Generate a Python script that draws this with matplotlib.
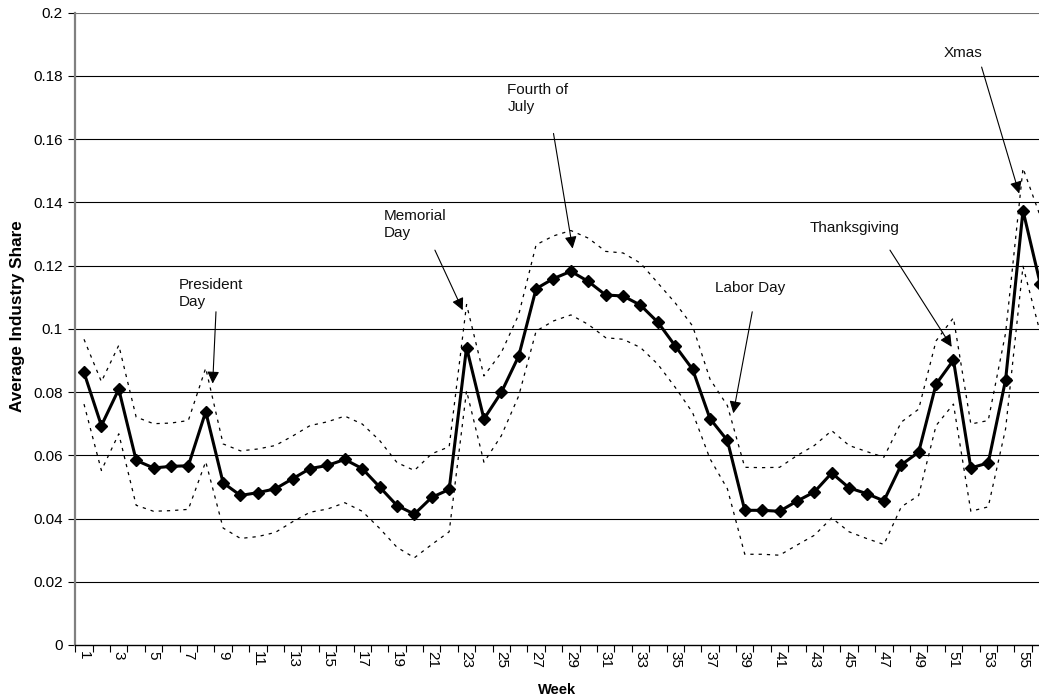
import matplotlib
matplotlib.use('Agg')
import matplotlib.pyplot as plt
from matplotlib.ticker import FixedLocator

plt.rcParams['font.family'] = ['Liberation Sans', 'DejaVu Sans']

weeks = list(range(1, 57))
share = [0.0862, 0.0694, 0.0809, 0.0584, 0.0560, 0.0565, 0.0567, 0.0738, 0.0513, 0.0473,
         0.0482, 0.0494, 0.0526, 0.0558, 0.0568, 0.0587, 0.0558, 0.0500, 0.0441, 0.0414,
         0.0467, 0.0492, 0.0941, 0.0715, 0.0799, 0.0914, 0.1127, 0.1159, 0.1182, 0.1150,
         0.1107, 0.1104, 0.1075, 0.1021, 0.0946, 0.0872, 0.0716, 0.0647, 0.0426, 0.0426,
         0.0423, 0.0455, 0.0484, 0.0544, 0.0497, 0.0479, 0.0456, 0.0570, 0.0610, 0.0825,
         0.0901, 0.0560, 0.0576, 0.0839, 0.1374, 0.1141]
upper = [0.0967, 0.0833, 0.0948, 0.0721, 0.0700, 0.0702, 0.0710, 0.0876, 0.0636, 0.0614,
         0.0620, 0.0631, 0.0661, 0.0694, 0.0706, 0.0724, 0.0699, 0.0647, 0.0577, 0.0552,
         0.0605, 0.0627, 0.1077, 0.0851, 0.0925, 0.1045, 0.1266, 0.1294, 0.1311, 0.1287,
         0.1245, 0.1240, 0.1208, 0.1145, 0.1082, 0.1009, 0.0841, 0.0757, 0.0562, 0.0561,
         0.0562, 0.0599, 0.0631, 0.0678, 0.0631, 0.0612, 0.0594, 0.0705, 0.0746, 0.0962,
         0.1035, 0.0699, 0.0710, 0.0987, 0.1508, 0.1355]
lower = [0.0762, 0.0552, 0.0668, 0.0442, 0.0423, 0.0425, 0.0429, 0.0580, 0.0370, 0.0337,
         0.0343, 0.0356, 0.0390, 0.0420, 0.0430, 0.0450, 0.0423, 0.0369, 0.0309, 0.0276,
         0.0318, 0.0358, 0.0804, 0.0578, 0.0662, 0.0788, 0.0993, 0.1025, 0.1044, 0.1014,
         0.0972, 0.0967, 0.0941, 0.0888, 0.0815, 0.0735, 0.0589, 0.0494, 0.0287, 0.0287,
         0.0284, 0.0316, 0.0347, 0.0402, 0.0358, 0.0337, 0.0318, 0.0437, 0.0473, 0.0694,
         0.0762, 0.0423, 0.0437, 0.0684, 0.1198, 0.0986]

y_ticks = [0, 0.02, 0.04, 0.06, 0.08, 0.1, 0.12, 0.14, 0.16, 0.18, 0.2]
y_tick_labels = ['0', '0.02', '0.04', '0.06', '0.08', '0.1', '0.12', '0.14', '0.16', '0.18', '0.2']
x_tick_weeks = list(range(1, 56, 2))
x_tick_labels = [str(w) for w in x_tick_weeks]

# annotations: label, text anchor (x, y), arrow start, arrow tip
ann_labels = ['President\nDay', 'Memorial\nDay', 'Fourth of\nJuly', 'Labor Day', 'Thanksgiving', 'Xmas']
ann_text_xy = [(6.46, 0.1160), (18.25, 0.1378), (25.34, 0.1777), (37.29, 0.1129), (42.75, 0.1318), (50.45, 0.1871)]
ann_text_va = ['top', 'top', 'top', 'center', 'center', 'center']
ann_start = [(8.59, 0.1054), (21.18, 0.1249), (28.00, 0.1618), (39.43, 0.1054), (47.35, 0.1249), (52.62, 0.1828)]
ann_tip = [(8.40, 0.0827), (22.78, 0.1059), (29.10, 0.1254), (38.34, 0.0733), (50.90, 0.0943), (54.78, 0.1428)]

W, H = 1039, 700
fig = plt.figure(figsize=(W / 100, H / 100), dpi=100)
ax = fig.add_axes([75.3 / W, 55 / H, (W - 75.3) / W, (645 - 12.7) / H])

ax.set_xlim(0.5, 55.92)
ax.set_ylim(0, 0.2)

for v in y_ticks[1:]:
    ax.axhline(v, color='black' if v < 0.2 else '#707070', lw=0.8, zorder=1)

dot = (0, (2.6, 4.0))
ax.plot(weeks, upper, color='black', lw=0.9, linestyle=dot, zorder=2)
ax.plot(weeks, lower, color='black', lw=0.9, linestyle=dot, zorder=2)
ax.plot(weeks, share, color='black', lw=2.2, marker='D', markersize=5.8, zorder=3)

for lab, (tx, ty), va, st, tp in zip(ann_labels, ann_text_xy, ann_text_va, ann_start, ann_tip):
    ax.text(tx, ty, lab, ha='left', va=va, fontsize=11, linespacing=1.25, color='#111111')
    ax.annotate('', xy=tp, xytext=st,
                arrowprops=dict(arrowstyle='-|>,head_length=0.6,head_width=0.3',
                                mutation_scale=12, lw=0.8, color='black',
                                shrinkA=0, shrinkB=0))

ax.set_yticks(y_ticks)
ax.set_yticklabels(y_tick_labels, fontsize=11)
ax.tick_params(axis='y', length=5, width=0.8, pad=4, color='black')

ax.xaxis.set_major_locator(FixedLocator(x_tick_weeks))
ax.set_xticklabels(x_tick_labels, rotation=270, fontsize=11)
ax.xaxis.set_minor_locator(FixedLocator([w + 0.5 for w in range(0, 56)]))
ax.tick_params(axis='x', which='major', length=0, pad=4)
ax.tick_params(axis='x', which='minor', length=5, width=0.8, color='black')

for s in ['top', 'right']:
    ax.spines[s].set_visible(False)
ax.spines['left'].set_color('#808080')
ax.spines['left'].set_linewidth(1.6)
ax.spines['bottom'].set_color('black')
ax.spines['bottom'].set_linewidth(1.0)

ax.set_ylabel('Average Industry Share', fontsize=12.3, fontweight='bold')
ax.set_xlabel('Week', fontsize=10.5, fontweight='bold')
ax.yaxis.set_label_coords(-50.5 / (W - 75.3), 0.52)
ax.xaxis.set_label_coords(0.5, -38 / (645 - 12.7))

fig.savefig('out.png', dpi=100)
